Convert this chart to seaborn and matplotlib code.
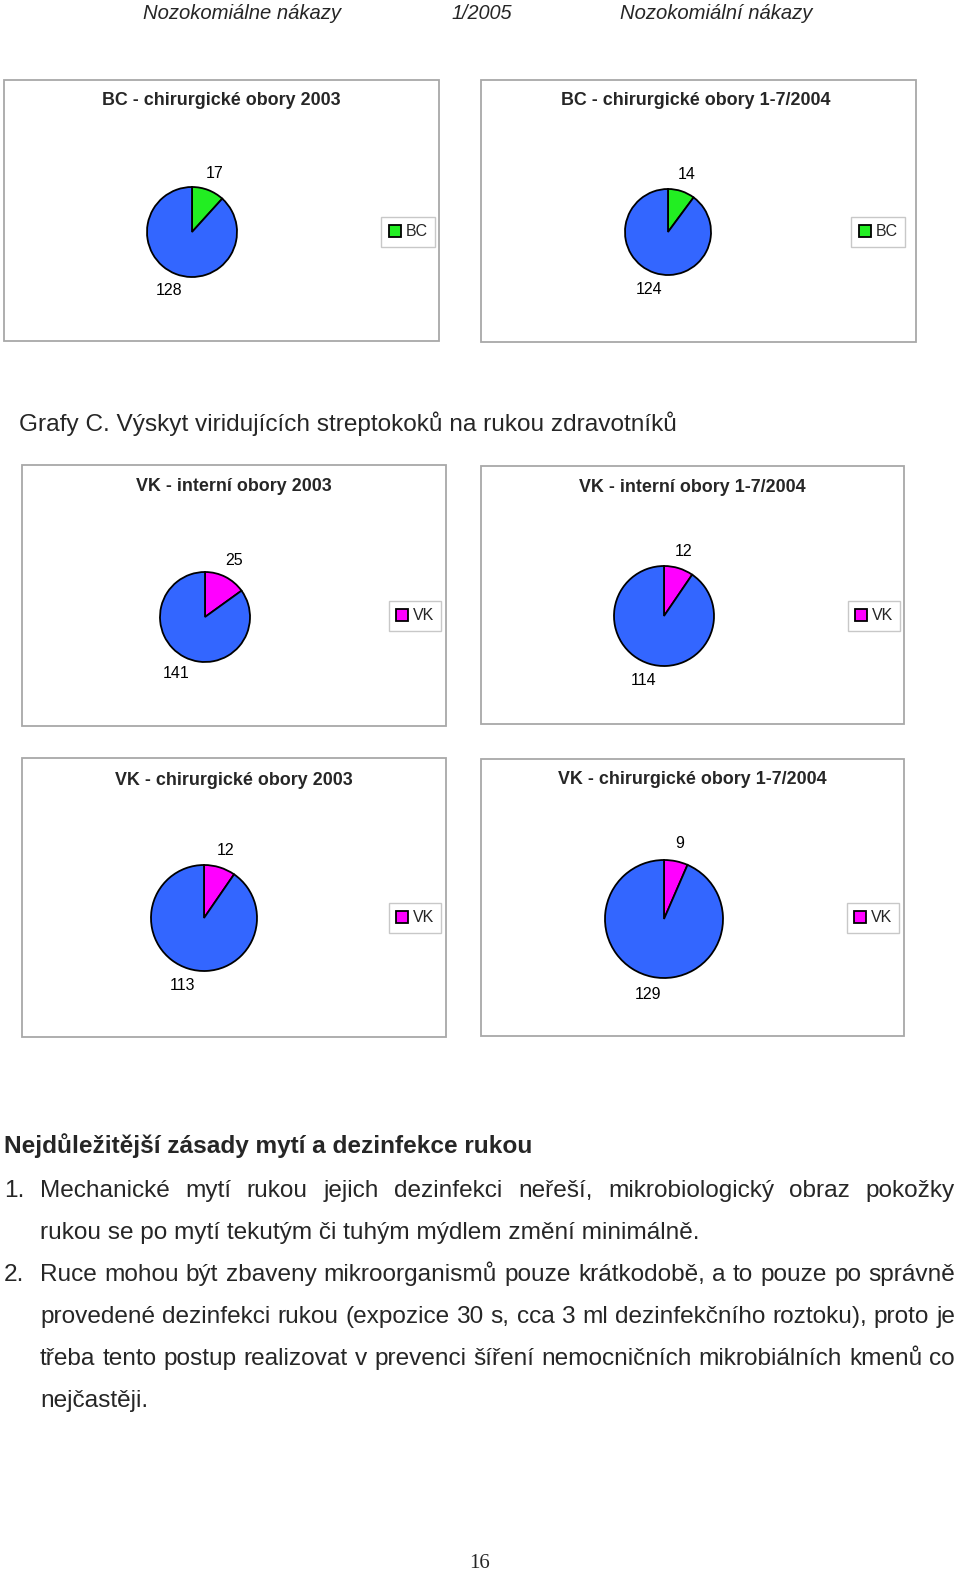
import matplotlib
matplotlib.use("Agg")
import matplotlib.pyplot as plt
from matplotlib.patches import Rectangle
from matplotlib import font_manager
import seaborn as sns

# ---------------- data ----------------
titles = ["BC - chirurgické obory 2003", "BC - chirurgické obory 1-7/2004",
          "VK - interní obory 2003", "VK - interní obory 1-7/2004",
          "VK - chirurgické obory 2003", "VK - chirurgické obory 1-7/2004"]
minor_values = [17, 14, 25, 12, 12, 9]
major_values = [128, 124, 141, 114, 113, 129]
legend_labels = ["BC", "BC", "VK", "VK", "VK", "VK"]

header_texts = ["Nozokomiálne nákazy", "1/2005", "Nozokomiální nákazy"]
section_title = "Grafy C. Výskyt viridujících streptokoků na rukou zdravotníků"
heading = "Nejdůležitější zásady mytí a dezinfekce rukou"
body_lines = [
    ("1.", "Mechanické mytí rukou jejich dezinfekci neřeší, mikrobiologický obraz pokožky", True),
    ("", "rukou se po mytí tekutým či tuhým mýdlem změní minimálně.", False),
    ("2.", "Ruce mohou být zbaveny mikroorganismů pouze krátkodobě, a to pouze po správně", True),
    ("", "provedené dezinfekci rukou (expozice 30 s, cca 3 ml dezinfekčního roztoku), proto je", True),
    ("", "třeba tento postup realizovat v prevenci šíření nemocničních mikrobiálních kmenů co", True),
    ("", "nejčastěji.", False),
]
page_number = "16"

# ---------------- style ----------------
sns.set_theme(style="white")
names = {f.name for f in font_manager.fontManager.ttflist}
NARROW = "Liberation Sans Narrow" if "Liberation Sans Narrow" in names else "Liberation Sans"
plt.rcParams["font.family"] = ["Liberation Sans", "DejaVu Sans"]

W, H = 960, 1571
fig = plt.figure(figsize=(W / 100, H / 100), dpi=100)
fig.patch.set_facecolor("white")
renderer = fig.canvas.get_renderer()

BLUE = "#3366FF"
MINOR_COLORS = ["#22EE22", "#22EE22", "#FF00FF", "#FF00FF", "#FF00FF", "#FF00FF"]


def fx(x):
    return x / W


def fy(y):
    return 1 - y / H


def base(yc, pt):
    """baseline pixel row for text whose capitals are centred at yc"""
    return yc + 0.36 * pt * 100 / 72


def fit_size(s, width, size0=16, **kw):
    t = fig.text(0, 0, s, fontsize=size0, **kw)
    w = t.get_window_extent(renderer).width
    t.remove()
    return size0 * width / w


def fit_text(x0, x1, yc, s, **kw):
    size = fit_size(s, x1 - x0, **kw)
    return fig.text(fx(x0), fy(base(yc, size)), s, fontsize=size,
                    va="baseline", ha="left", **kw)


# ---------------- page header ----------------
hdr_pos = [(143, 342), (451, 512), (620, 813)]
for s, (a, b) in zip(header_texts, hdr_pos):
    fit_text(a, b, 12, s, family=[NARROW, "DejaVu Sans"], style="italic")

# ---------------- pie panels ----------------
boxes = [(4, 80, 439, 341), (481, 80, 916, 342), (22, 465, 446, 726),
         (481, 466, 904, 724), (22, 758, 446, 1037), (481, 759, 904, 1036)]
pies = [(192, 232, 45), (668, 232, 43), (205, 617, 45),
        (664, 616, 50), (204, 918, 53), (664, 919, 59)]
title_pos = [(221, 99), (696, 99), (234, 485), (692, 486), (234, 779), (692, 778)]
legend_pos = [(408, 232), (878, 232), (415, 616), (874, 616), (415, 918), (873, 918)]

tsize = fit_size(titles[2], 194, fontweight="bold")

for i in range(6):
    x0, y0, x1, y1 = boxes[i]
    fig.patches.append(Rectangle((fx(x0), fy(y1)), (x1 - x0) / W, (y1 - y0) / H,
                                 transform=fig.transFigure, fill=False,
                                 edgecolor="#A8A8A8", lw=1.3))
    cx, cy, r = pies[i]
    ax = fig.add_axes([fx(cx - r), fy(cy + r), 2 * r / W, 2 * r / H])
    vals = [minor_values[i], major_values[i]]
    total = sum(vals)
    wedges, _, autotexts = ax.pie(
        vals, colors=[MINOR_COLORS[i], BLUE], startangle=90, counterclock=False,
        wedgeprops=dict(edgecolor="black", linewidth=1.3),
        autopct=lambda p, t=total: f"{round(p * t / 100)}",
        pctdistance=1 + 18 / r,
        textprops=dict(fontsize=11.5, color="black"))
    ax.set_xlim(-1, 1)
    ax.set_ylim(-1, 1)
    ax.set_aspect("equal")
    ax.axis("off")
    tx, ty = title_pos[i]
    fig.text(fx(tx), fy(base(ty, tsize)), titles[i], fontsize=tsize, fontweight="bold",
             ha="center", va="baseline")
    lx, ly = legend_pos[i]
    leg = ax.legend([wedges[0]], [legend_labels[i]], loc="center",
                    bbox_to_anchor=(fx(lx), fy(ly)), bbox_transform=fig.transFigure,
                    frameon=True, fancybox=False, framealpha=1, edgecolor="#C8C8C8",
                    fontsize=11.5, handlelength=0.75, handleheight=0.75,
                    handletextpad=0.3, borderpad=0.45, borderaxespad=0)
    leg.get_frame().set_linewidth(1.0)

# ---------------- section title ----------------
fit_text(19, 678, 422, section_title)

# ---------------- body text ----------------
BODY_FAMILY = [NARROW, "DejaVu Sans"]
fit_text(4, 531, 1144, heading, family=BODY_FAMILY, fontweight="bold")

bsize = fit_size(body_lines[1][1], 660, family=BODY_FAMILY)

line_y = [1188, 1230, 1272, 1314, 1356, 1398]
LEFT, RIGHT = 40, 955
for (num, txt, justify), yc in zip(body_lines, line_y):
    yb = fy(base(yc, bsize))
    if num:
        fig.text(fx(4), yb, num, fontsize=bsize, family=BODY_FAMILY,
                 va="baseline", ha="left")
    if not justify:
        fig.text(fx(LEFT), yb, txt, fontsize=bsize, family=BODY_FAMILY,
                 va="baseline", ha="left")
        continue
    words = txt.split(" ")
    arts = [fig.text(0, yb, w_, fontsize=bsize, family=BODY_FAMILY,
                     va="baseline", ha="left") for w_ in words]
    widths = [a.get_window_extent(renderer).width for a in arts]
    gap = (RIGHT - LEFT - sum(widths)) / (len(words) - 1)
    x = LEFT
    for a, w_ in zip(arts, widths):
        a.set_x(fx(x))
        x += w_ + gap

# ---------------- page number ----------------
fig.text(fx(480), fy(base(1560, 15)), page_number, fontsize=15,
         family=["Liberation Serif", "DejaVu Serif"], ha="center", va="baseline")

fig.savefig("out.png", dpi=100, facecolor="white")
